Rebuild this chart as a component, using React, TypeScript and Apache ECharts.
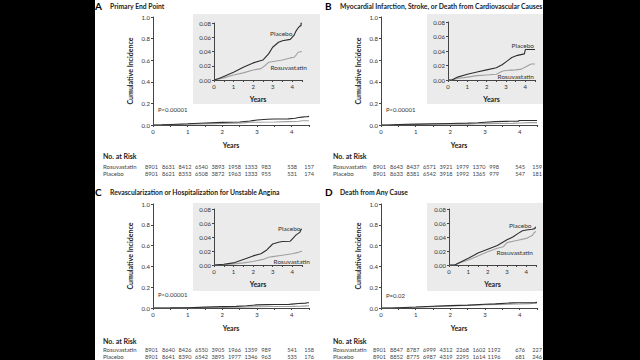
import React, { useEffect, useRef } from 'react';
import * as echarts from 'echarts';

// ---- Data ----
const panelLetters = ['A', 'B', 'C', 'D'];
const panelTitles = [
  'Primary End Point',
  'Myocardial Infarction, Stroke, or Death from Cardiovascular Causes',
  'Revascularization or Hospitalization for Unstable Angina',
  'Death from Any Cause',
];
const pValues = ['P<0.00001', 'P<0.00001', 'P<0.00001', 'P=0.02'];
const groupNames = ['Rosuvastatin', 'Placebo'];

const primaryPlacebo = [[0, 0], [0.25, 0.002], [0.5, 0.005], [1, 0.011], [1.5, 0.018], [2, 0.024], [2.5, 0.028], [2.8, 0.037], [3, 0.046], [3.3, 0.053], [3.5, 0.055], [3.9, 0.057], [4.1, 0.063], [4.2, 0.069], [4.3, 0.073], [4.4, 0.076], [4.45, 0.076], [4.45, 0.08], [4.5, 0.08]];
const primaryRosuva = [[0, 0], [0.5, 0.003], [1, 0.007], [1.5, 0.01], [2, 0.014], [2.4, 0.016], [2.6, 0.02], [2.8, 0.025], [3.5, 0.028], [3.9, 0.031], [4.1, 0.032], [4.2, 0.035], [4.3, 0.039], [4.5, 0.04]];
const macePlacebo = [[0, 0], [0.2, 0], [0.5, 0.004], [1, 0.008], [1.5, 0.011], [2, 0.014], [2.5, 0.017], [2.8, 0.021], [3, 0.025], [3.3, 0.031], [3.6, 0.034], [3.95, 0.036], [4.0, 0.042], [4.5, 0.042]];
const maceRosuva = [[0, 0], [0.2, 0], [0.5, 0.002], [1, 0.004], [1.5, 0.006], [2, 0.007], [2.5, 0.008], [2.8, 0.012], [3, 0.013], [3.5, 0.014], [3.8, 0.015], [4, 0.018], [4.3, 0.022], [4.5, 0.022]];
const revascPlacebo = [[0, 0], [0.5, 0.001], [1, 0.003], [1.5, 0.008], [2, 0.013], [2.4, 0.016], [2.7, 0.0215], [3, 0.03], [3.3, 0.0325], [3.5, 0.0335], [3.9, 0.034], [4.0, 0.037], [4.2, 0.043], [4.4, 0.047], [4.45, 0.051], [4.5, 0.051]];
const revascRosuva = [[0, 0], [0.5, 0.0005], [1, 0.0015], [1.5, 0.003], [2, 0.005], [2.5, 0.008], [2.8, 0.011], [3, 0.012], [3.5, 0.014], [4, 0.016], [4.3, 0.018], [4.5, 0.02]];
const deathPlacebo = [[0, 0], [0.3, 0], [0.5, 0.003], [1, 0.0095], [1.5, 0.017], [2, 0.0225], [2.5, 0.028], [3, 0.036], [3.3, 0.04], [3.6, 0.0455], [3.8, 0.049], [4, 0.05], [4.3, 0.051], [4.45, 0.052], [4.45, 0.054], [4.5, 0.054]];
const deathRosuva = [[0, 0], [0.3, 0], [0.5, 0.0025], [1, 0.007], [1.5, 0.013], [2, 0.019], [2.5, 0.024], [2.8, 0.026], [3, 0.032], [3.5, 0.035], [4, 0.038], [4.3, 0.042], [4.4, 0.046], [4.5, 0.048]];

const riskRosuvaA = [8901, 8631, 8412, 6540, 3893, 1958, 1353, 983, 538, 157];
const riskPlaceboA = [8901, 8621, 8353, 6508, 3872, 1963, 1333, 955, 531, 174];
const riskRosuvaB = [8901, 8643, 8437, 6571, 3921, 1979, 1370, 998, 545, 159];
const riskPlaceboB = [8901, 8633, 8381, 6542, 3918, 1992, 1365, 979, 547, 181];
const riskRosuvaC = [8901, 8640, 8426, 6550, 3905, 1966, 1359, 989, 541, 158];
const riskPlaceboC = [8901, 8641, 8390, 6542, 3895, 1977, 1346, 963, 535, 176];
const riskRosuvaD = [8901, 8847, 8787, 6999, 4312, 2268, 1602, 1192, 676, 227];
const riskPlaceboD = [8901, 8852, 8775, 6987, 4319, 2295, 1614, 1196, 681, 246];

const placeboCurves = [primaryPlacebo, macePlacebo, revascPlacebo, deathPlacebo];
const rosuvaCurves = [primaryRosuva, maceRosuva, revascRosuva, deathRosuva];
const riskRosuva = [riskRosuvaA, riskRosuvaB, riskRosuvaC, riskRosuvaD];
const riskPlacebo = [riskPlaceboA, riskPlaceboB, riskPlaceboC, riskPlaceboD];

// ---- Layout ----
const FONT = 'Lato';
const PLACEBO_COLOR = '#2e2e2e';
const ROSUVA_COLOR = '#a0a0a0';
const AXIS_COLOR = '#444444';
const INSET_BG = '#ebebeb';

const layouts = [
  { lx: 95, ty: 6, main: { left: 153, top: 17, width: 156, height: 108 }, inset: { left: 214, top: 23, width: 88, height: 57 }, box: [193, 14, 127, 90], riskY: [156, 166, 173.5], pY: 109, labP: [270, 33], labR: [270.5, 67] },
  { lx: 325, ty: 6, main: { left: 381, top: 17, width: 156, height: 108 }, inset: { left: 448, top: 22, width: 87, height: 58 }, box: [427, 14, 116, 90], riskY: [156, 166, 173.5], pY: 109, labP: [534, 45], labR: [534, 76] },
  { lx: 95, ty: 192, main: { left: 153, top: 204, width: 156, height: 104 }, inset: { left: 214, top: 209, width: 88, height: 56 }, box: [193, 203, 127, 88], riskY: [341, 349, 356.5], pY: 294, labP: [300.5, 228], labR: [310, 261] },
  { lx: 325, ty: 192, main: { left: 381, top: 204, width: 156, height: 104 }, inset: { left: 449, top: 209, width: 87, height: 56 }, box: [427, 203, 116, 88], riskY: [341, 349, 356.5], pY: 295, labP: [531.5, 225], labR: [533, 252] },
];
const colOffsets = [-1.5, 15.5, 32, 48.5, 65, 81.5, 98, 113, 139, 156];

function axisPair(gi: number, inset: boolean) {
  const fs = 6;
  const x = {
    type: 'value', gridIndex: gi, min: 0, max: 4.5, interval: 0.5,
    axisLine: { lineStyle: { color: AXIS_COLOR, width: 1 } },
    axisTick: { show: true, length: 2, lineStyle: { color: AXIS_COLOR } },
    axisLabel: { fontSize: fs, color: '#333', fontFamily: FONT, margin: 3, formatter: (v: number) => (Number.isInteger(v) ? String(v) : '') },
    splitLine: { show: false },
    name: 'Years', nameLocation: 'middle', nameGap: inset ? 15 : 16,
    nameTextStyle: { fontSize: 7, fontWeight: 'bold', color: '#222', fontFamily: FONT },
  };
  const y: any = {
    type: 'value', gridIndex: gi, min: 0, max: inset ? 0.08 : 1, interval: inset ? 0.02 : 0.2,
    axisLine: { show: true, lineStyle: { color: AXIS_COLOR, width: 1 } },
    axisTick: { show: true, length: 2, lineStyle: { color: AXIS_COLOR } },
    axisLabel: { fontSize: fs, color: '#333', fontFamily: FONT, margin: 3, formatter: (v: number) => v.toFixed(inset ? 2 : 1) },
    splitLine: { show: false },
  };
  if (!inset) {
    Object.assign(y, {
      name: 'Cumulative Incidence', nameLocation: 'middle', nameGap: 20, nameRotate: 90,
      nameTextStyle: { fontSize: 7, fontWeight: 'bold', color: '#222', fontFamily: FONT },
    });
  }
  return { x, y };
}

function buildOption() {
  const grid: any[] = [];
  const xAxis: any[] = [];
  const yAxis: any[] = [];
  const series: any[] = [];
  const graphic: any[] = [
    { type: 'rect', z: -10, shape: { x: 95, y: 0, width: 448, height: 360 }, style: { fill: '#ffffff' } },
  ];
  layouts.forEach((L, p) => {
    [false, true].forEach((inset) => {
      const gi = grid.length;
      grid.push({ ...(inset ? L.inset : L.main), outerBoundsMode: 'none', containLabel: false });
      const { x, y } = axisPair(gi, inset);
      xAxis.push(x);
      yAxis.push(y);
      series.push({
        type: 'line', xAxisIndex: gi, yAxisIndex: gi, data: rosuvaCurves[p], showSymbol: false, symbol: 'none',
        lineStyle: { color: ROSUVA_COLOR, width: 1.1 }, z: 3,
      });
      series.push({
        type: 'line', xAxisIndex: gi, yAxisIndex: gi, data: placeboCurves[p], showSymbol: false, symbol: 'none',
        lineStyle: { color: PLACEBO_COLOR, width: 1.1 }, z: 4,
      });
    });
    const [bx, by, bw, bh] = L.box;
    graphic.push({ type: 'rect', z: -5, shape: { x: bx, y: by, width: bw, height: bh }, style: { fill: INSET_BG } });
    graphic.push({ type: 'text', x: L.lx, y: L.ty, style: { text: panelLetters[p], fontSize: 10, fontWeight: 'bold', fill: '#000', fontFamily: FONT, verticalAlign: 'middle' } });
    graphic.push({ type: 'text', x: L.lx + 15, y: L.ty, style: { text: panelTitles[p], fontSize: 6.8, fontWeight: 'bold', fill: '#222', fontFamily: FONT, verticalAlign: 'middle' } });
    graphic.push({ type: 'text', x: L.main.left + 5, y: L.pY, style: { text: pValues[p], fontSize: 6, fill: '#333', fontFamily: FONT, verticalAlign: 'middle' } });
    const insetLabel = (t: string, pos: number[], align: string) => ({ type: 'text', x: pos[0], y: pos[1], style: { text: t, fontSize: 6.5, fill: '#333', fontFamily: FONT, verticalAlign: 'middle', align } });
    const align = p === 0 ? 'left' : 'right';
    graphic.push(insetLabel(groupNames[1], L.labP, align));
    graphic.push(insetLabel(groupNames[0], L.labR, align));
    const rx = L.lx + 8;
    graphic.push({ type: 'text', x: rx, y: L.riskY[0], style: { text: 'No. at Risk', fontSize: 7, fontWeight: 'bold', fill: '#222', fontFamily: FONT, verticalAlign: 'middle' } });
    [riskRosuva[p], riskPlacebo[p]].forEach((row, r) => {
      const yy = L.riskY[1 + r];
      graphic.push({ type: 'text', x: rx, y: yy, style: { text: groupNames[r], fontSize: 6, fill: '#444', fontFamily: FONT, verticalAlign: 'middle' } });
      row.forEach((n, i) => {
        graphic.push({ type: 'text', x: L.main.left + colOffsets[i], y: yy, style: { text: String(n), fontSize: 5.6, fill: '#444', fontFamily: FONT, verticalAlign: 'middle', align: 'center' } });
      });
    });
  });
  return { animation: false, backgroundColor: '#000000', grid, xAxis, yAxis, series, graphic };
}

export default function App() {
  const ref = useRef<HTMLDivElement>(null);
  useEffect(() => {
    const chart = echarts.init(ref.current!, undefined, { renderer: 'svg' });
    chart.setOption(buildOption() as any);
    return () => chart.dispose();
  }, []);
  return <div ref={ref} style={{ position: 'fixed', left: 0, top: 0, width: 640, height: 360 }} />;
}
